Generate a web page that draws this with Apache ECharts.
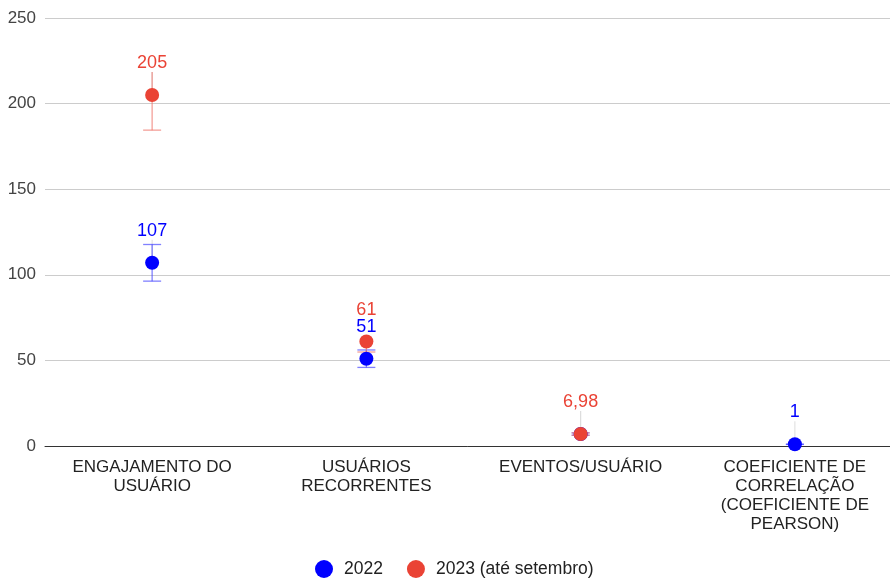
<!DOCTYPE html>
<html>
<head>
<meta charset="utf-8">
<script src="https://cdn.jsdelivr.net/npm/echarts@6/dist/echarts.min.js"></script>
<style>html,body{margin:0;padding:0;background:#fff}#c{width:890px;height:578px}</style>
</head>
<body>
<div id="c"></div>
<script>
var categories = ['ENGAJAMENTO DO\nUSUÁRIO', 'USUÁRIOS\nRECORRENTES', 'EVENTOS/USUÁRIO', 'COEFICIENTE DE\nCORRELAÇÃO\n(COEFICIENTE DE\nPEARSON)'];
var seriesNames = ['2022', '2023 (até setembro)'];
var values2022 = [107, 51, 6.98, 1];
var values2023 = [205, 61, 6.98, null];
var errorPct = 0.10;
var yTicks = [0, 50, 100, 150, 200, 250];

var colors = ['#0000ff', '#ea4335'];
var barColors = ['rgba(60,60,255,0.65)', 'rgba(240,120,110,0.7)'];
var FONT = 'Liberation Sans, Arial, sans-serif';

function fmt(v){ return String(v).replace('.', ','); }

function errData(vals){
  var out = [];
  vals.forEach(function(v, i){
    if (v == null) return;
    out.push([i, v * (1 - errorPct), v * (1 + errorPct), v]);
  });
  return out;
}

function makeErr(vals, idx){
  return {
    type: 'custom',
    name: seriesNames[idx],
    z: 1 + idx,
    silent: true,
    data: errData(vals),
    encode: { x: 0, y: [1, 2, 3] },
    renderItem: function(params, api){
      var x = api.value(0);
      var lo = api.coord([x, api.value(1)]);
      var hi = api.coord([x, api.value(2)]);
      var pt = api.coord([x, api.value(3)]);
      var hw = 9;
      var c = barColors[idx];
      return {
        type: 'group',
        children: [
          { type: 'line', shape: { x1: pt[0], y1: pt[1], x2: pt[0], y2: pt[1] - 25 }, style: { stroke: '#dddddd', lineWidth: 1 } },
          { type: 'line', shape: { x1: lo[0], y1: lo[1], x2: hi[0], y2: hi[1] }, style: { stroke: c, lineWidth: 1.3 } },
          { type: 'line', shape: { x1: lo[0] - hw, y1: lo[1], x2: lo[0] + hw, y2: lo[1] }, style: { stroke: c, lineWidth: 1.3 } },
          { type: 'line', shape: { x1: hi[0] - hw, y1: hi[1], x2: hi[0] + hw, y2: hi[1] }, style: { stroke: c, lineWidth: 1.3 } }
        ]
      };
    }
  };
}

function makeScatter(vals, other, idx){
  var data = vals.map(function(v, i){
    // an annotation covered by the other year's annotation at the same spot is not shown
    var covered = idx === 0 && other[i] != null && Math.abs(other[i] - v) < 3;
    return { value: v, label: { show: !covered } };
  });
  return {
    type: 'scatter',
    name: seriesNames[idx],
    z: 5 + idx,
    symbolSize: 14,
    itemStyle: { color: colors[idx], opacity: 1 },
    data: data,
    label: {
      show: true,
      position: 'top',
      distance: 16,
      color: colors[idx],
      fontSize: 18,
      fontFamily: FONT,
      backgroundColor: '#fff',
      padding: [0, 1, 0, 1],
      formatter: function(p){ return fmt(p.value); }
    }
  };
}

var chart = echarts.init(document.getElementById('c'), null, { renderer: 'canvas' });
chart.setOption({
  animation: false,
  color: colors,
  textStyle: { fontFamily: FONT },
  grid: { left: 45, right: -12, top: 18, bottom: 132, containLabel: false, outerBoundsMode: 'none' },
  legend: {
    bottom: 0,
    padding: 0,
    left: 315,
    icon: 'circle',
    itemWidth: 18,
    itemHeight: 18,
    itemGap: 24,
    data: seriesNames,
    textStyle: { fontSize: 17.5, color: '#222', fontFamily: FONT, padding: [0, 0, 0, 6] }
  },
  xAxis: {
    type: 'category',
    data: categories,
    axisTick: { show: false },
    axisLine: { show: true, lineStyle: { color: '#333', width: 1 } },
    axisLabel: { color: '#222', fontSize: 17, lineHeight: 19, margin: 12, interval: 0, fontFamily: FONT }
  },
  yAxis: {
    type: 'value',
    min: yTicks[0],
    max: yTicks[yTicks.length - 1],
    interval: 50,
    axisLine: { show: false },
    axisTick: { show: false },
    splitLine: { lineStyle: { color: '#cccccc', width: 1 } },
    axisLabel: { color: '#444', fontSize: 17, margin: 9, fontFamily: FONT }
  },
  series: [
    makeErr(values2022, 0),
    makeErr(values2023, 1),
    makeScatter(values2022, values2023, 0),
    makeScatter(values2023, values2022, 1)
  ]
});
</script>
</body>
</html>
